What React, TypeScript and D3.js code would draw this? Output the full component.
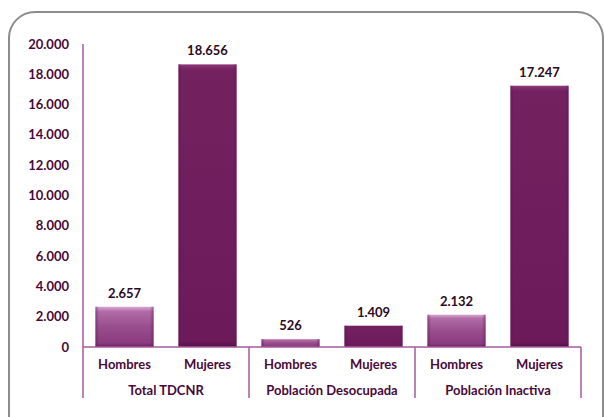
import React from "react";
import * as d3 from "d3";

const groups = ["Total TDCNR", "Población Desocupada", "Población Inactiva"];
const sexes = ["Hombres", "Mujeres"];
const hombres = [2657, 526, 2132];
const mujeres = [18656, 1409, 17247];
const yTicks = [0, 2000, 4000, 6000, 8000, 10000, 12000, 14000, 16000, 18000, 20000];

const W = 605, H = 417;
const left = 83, right = 581, top = 44, bottom = 347;
const font = "Lato, 'Open Sans', sans-serif";
const textColor = "#48093a";
const axisColor = "#a65a9e";

const fmt = (v: number) => d3.format(",")(v).replace(/,/g, ".");

export default function App() {
  const y = d3.scaleLinear().domain([0, 20000]).range([bottom, top]);
  const xGroup = d3.scaleBand<string>().domain(groups).range([left, right]).padding(0);
  const xSex = d3.scaleBand<string>().domain(sexes).range([0, xGroup.bandwidth()]).paddingInner(0.3).paddingOuter(0.15);

  const bars = groups.flatMap((g, i) => [
    { g, s: "Hombres", v: hombres[i] },
    { g, s: "Mujeres", v: mujeres[i] },
  ]);

  return (
    <svg width={W} height={H} style={{ position: "absolute", left: 0, top: 0, background: "#fff" }}>
      <defs>
        <linearGradient id="gH" x1="0" y1="0" x2="0" y2="1">
          <stop offset="0" stopColor="#d9a6d2" />
          <stop offset="0.12" stopColor="#b06ca6" />
          <stop offset="0.5" stopColor="#9a4d8e" />
          <stop offset="0.9" stopColor="#8a3c7e" />
          <stop offset="1" stopColor="#6a1f5e" />
        </linearGradient>
        <linearGradient id="gHs" x1="0" y1="0" x2="1" y2="0">
          <stop offset="0" stopColor="#5e1454" stopOpacity="0.5" />
          <stop offset="0.06" stopColor="#5e1454" stopOpacity="0" />
          <stop offset="0.94" stopColor="#5e1454" stopOpacity="0" />
          <stop offset="1" stopColor="#5e1454" stopOpacity="0.5" />
        </linearGradient>
        <linearGradient id="gM" x1="0" y1="0" x2="0" y2="1">
          <stop offset="0" stopColor="#8e3a7c" />
          <stop offset="0.02" stopColor="#74215f" />
          <stop offset="0.98" stopColor="#6c1a5a" />
          <stop offset="1" stopColor="#551048" />
        </linearGradient>
      </defs>
      <rect x={9} y={12} width={594} height={430} rx={26} ry={26} fill="#fff" stroke="#8c8c8c" strokeWidth={2} />

      {/* y axis */}
      <line x1={left} x2={left} y1={top} y2={bottom} stroke={axisColor} strokeWidth={1.5} />
      {yTicks.map((t) => (
        <text key={t} x={69} y={y(t)} dy="0.35em" textAnchor="end" fontFamily={font} fontWeight={700} fontSize={13} fill={textColor}>
          {fmt(t)}
        </text>
      ))}

      {/* bars */}
      {bars.map((b, i) => {
        const x = (xGroup(b.g) as number) + (xSex(b.s) as number);
        const w = xSex.bandwidth();
        const yy = y(b.v);
        const h = bottom - yy;
        const isH = b.s === "Hombres";
        return (
          <g key={i}>
            <rect x={x} y={yy} width={w} height={h} fill={isH ? "url(#gH)" : "url(#gM)"} />
            <rect x={x} y={yy} width={w} height={h} fill="url(#gHs)" />
            <text x={x + w / 2} y={yy - 9} textAnchor="middle" fontFamily={font} fontWeight={700} fontSize={13} fill="#2a0a24">
              {fmt(b.v)}
            </text>
          </g>
        );
      })}

      {/* x axis */}
      <line x1={left} x2={right} y1={bottom} y2={bottom} stroke={axisColor} strokeWidth={1.5} />
      {[...groups.map((g) => xGroup(g) as number), right].map((x, i) => (
        <line key={i} x1={x} x2={x} y1={bottom} y2={398} stroke={axisColor} strokeWidth={1.5} />
      ))}
      {bars.map((b, i) => {
        const x = (xGroup(b.g) as number) + (xSex(b.s) as number) + xSex.bandwidth() / 2;
        return (
          <text key={i} x={x} y={364} dy="0.35em" textAnchor="middle" fontFamily={font} fontWeight={700} fontSize={13} fill={textColor}>
            {b.s}
          </text>
        );
      })}
      {groups.map((g) => (
        <text key={g} x={(xGroup(g) as number) + xGroup.bandwidth() / 2} y={390} dy="0.35em" textAnchor="middle" fontFamily={font} fontWeight={700} fontSize={13} fill={textColor}>
          {g}
        </text>
      ))}
    </svg>
  );
}
